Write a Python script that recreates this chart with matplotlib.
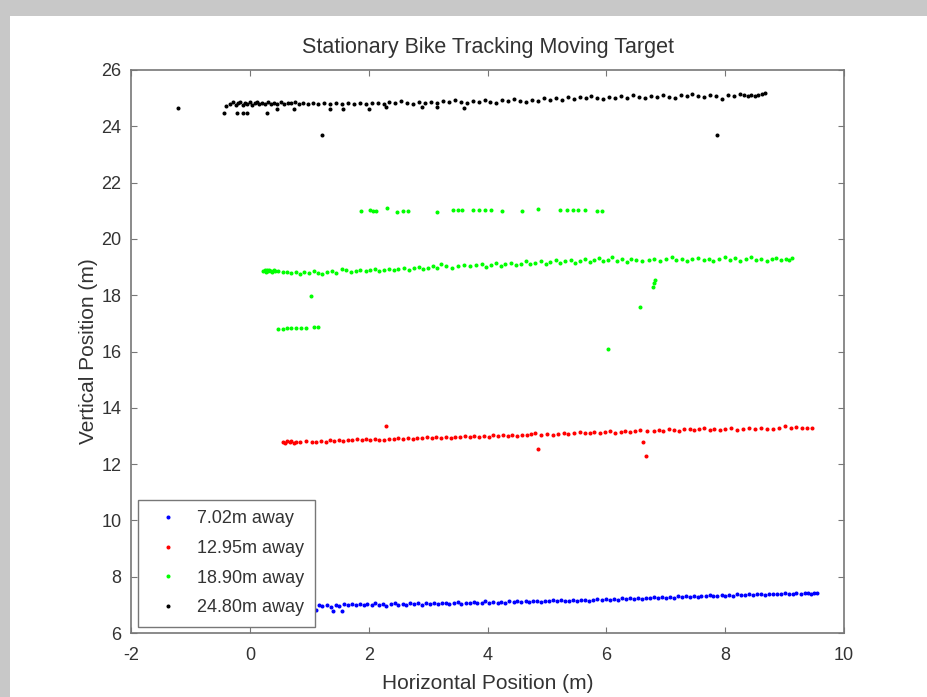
import matplotlib
matplotlib.use("Agg")
from matplotlib import pyplot as plt
from matplotlib.patches import Rectangle

plt.rcParams['font.family'] = ['Liberation Sans', 'DejaVu Sans']
plt.rcParams['axes.unicode_minus'] = False

# 7.02m away (blue)
blue_x = [0.55, 0.60, 0.66, 0.71, 0.77, 0.83, 0.88, 0.95, 1.01, 1.07, 1.12, 1.16, 1.22, 1.30, 1.36,
          1.40, 1.45, 1.50, 1.55, 1.58, 1.65, 1.72, 1.78, 1.85, 1.92, 1.98, 2.05, 2.10, 2.18, 2.24,
          2.30, 2.37, 2.44, 2.50, 2.57, 2.63, 2.70, 2.76, 2.83, 2.90, 2.97, 3.03, 3.10, 3.16, 3.23,
          3.30, 3.36, 3.43, 3.50, 3.56, 3.63, 3.70, 3.77, 3.83, 3.90, 3.96, 4.03, 4.10, 4.17, 4.23,
          4.30, 4.37, 4.44, 4.50, 4.57, 4.64, 4.70, 4.77, 4.84, 4.90, 4.97, 5.04, 5.10, 5.17, 5.24,
          5.30, 5.37, 5.44, 5.50, 5.57, 5.64, 5.70, 5.78, 5.85, 5.92, 6.00, 6.06, 6.13, 6.20, 6.27,
          6.33, 6.40, 6.47, 6.54, 6.60, 6.67, 6.74, 6.80, 6.87, 6.94, 7.00, 7.07, 7.14, 7.20, 7.27,
          7.34, 7.40, 7.47, 7.54, 7.60, 7.67, 7.74, 7.80, 7.87, 7.94, 8.00, 8.07, 8.14, 8.20, 8.27,
          8.34, 8.40, 8.47, 8.54, 8.60, 8.67, 8.74, 8.80, 8.87, 8.94, 9.00, 9.07, 9.14, 9.20, 9.27,
          9.34, 9.40, 9.45, 9.50, 9.55]
blue_y = [6.93, 6.97, 6.90, 6.95, 6.99, 6.94, 6.97, 6.92, 6.98, 6.95, 6.80, 7.00, 6.96, 6.99, 6.94,
          6.78, 7.01, 6.97, 6.79, 7.02, 6.98, 7.03, 6.99, 7.04, 7.00, 7.03, 6.98, 7.05, 7.01, 7.04,
          6.97, 7.03, 7.06, 7.00, 7.04, 7.01, 7.07, 7.02, 7.05, 7.01, 7.06, 7.03, 7.07, 7.02, 7.05,
          7.08, 7.03, 7.06, 7.09, 7.04, 7.07, 7.05, 7.10, 7.06, 7.08, 7.12, 7.07, 7.10, 7.06, 7.11,
          7.08, 7.12, 7.09, 7.13, 7.10, 7.14, 7.09, 7.12, 7.15, 7.11, 7.14, 7.12, 7.16, 7.13, 7.17,
          7.14, 7.12, 7.17, 7.15, 7.19, 7.16, 7.13, 7.18, 7.21, 7.17, 7.20, 7.18, 7.22, 7.19, 7.23,
          7.20, 7.24, 7.21, 7.26, 7.22, 7.25, 7.23, 7.27, 7.24, 7.28, 7.25, 7.29, 7.26, 7.30, 7.27,
          7.31, 7.28, 7.32, 7.29, 7.33, 7.30, 7.34, 7.31, 7.33, 7.35, 7.32, 7.36, 7.33, 7.37, 7.34,
          7.36, 7.38, 7.35, 7.37, 7.39, 7.36, 7.38, 7.40, 7.37, 7.39, 7.41, 7.38, 7.40, 7.42, 7.39,
          7.41, 7.43, 7.40, 7.42, 7.41]

# 12.95m away (red)
red_x = [0.56, 0.60, 0.63, 0.67, 0.70, 0.74, 0.78, 0.85, 0.95, 1.05, 1.12, 1.20, 1.28, 1.35, 1.42,
         1.50, 1.57, 1.65, 1.72, 1.80, 1.88, 1.95, 2.02, 2.10, 2.18, 2.26, 2.30, 2.35, 2.42, 2.50,
         2.58, 2.66, 2.74, 2.82, 2.90, 2.98, 3.06, 3.14, 3.22, 3.30, 3.38, 3.46, 3.54, 3.62, 3.70,
         3.78, 3.86, 3.94, 4.02, 4.10, 4.18, 4.26, 4.34, 4.42, 4.50, 4.58, 4.66, 4.74, 4.80, 4.85,
         4.90, 5.00, 5.10, 5.18, 5.28, 5.36, 5.45, 5.55, 5.64, 5.72, 5.80, 5.90, 5.98, 6.06, 6.15,
         6.24, 6.32, 6.40, 6.48, 6.56, 6.62, 6.66, 6.68, 6.80, 6.88, 6.96, 7.05, 7.14, 7.22, 7.30,
         7.40, 7.48, 7.56, 7.65, 7.74, 7.82, 7.92, 8.00, 8.10, 8.20, 8.30, 8.40, 8.50, 8.60, 8.70,
         8.80, 8.90, 9.00, 9.10, 9.20, 9.30, 9.38, 9.46]
red_y = [12.80, 12.76, 12.83, 12.78, 12.81, 12.76, 12.80, 12.78, 12.82, 12.79, 12.77, 12.83, 12.80,
         12.84, 12.81, 12.86, 12.82, 12.87, 12.84, 12.88, 12.85, 12.89, 12.86, 12.90, 12.87, 12.85,
         13.36, 12.90, 12.88, 12.92, 12.89, 12.93, 12.90, 12.94, 12.91, 12.95, 12.92, 12.96, 12.93,
         12.97, 12.94, 12.98, 12.95, 12.99, 12.96, 13.00, 12.97, 13.01, 12.98, 13.02, 12.99, 13.03,
         13.00, 13.04, 13.01, 13.05, 13.02, 13.06, 13.10, 12.52, 13.03, 13.07, 13.04, 13.08, 13.12,
         13.06, 13.10, 13.13, 13.09, 13.12, 13.14, 13.10, 13.13, 13.16, 13.12, 13.15, 13.18, 13.14,
         13.17, 13.22, 12.78, 12.30, 13.19, 13.16, 13.22, 13.18, 13.24, 13.20, 13.17, 13.23, 13.26,
         13.20, 13.24, 13.28, 13.22, 13.25, 13.21, 13.24, 13.27, 13.22, 13.25, 13.28, 13.24, 13.27,
         13.23, 13.26, 13.30, 13.35, 13.28, 13.31, 13.27, 13.29, 13.28]

# 18.90m away (green)
green_x = [0.22, 0.25, 0.27, 0.29, 0.31, 0.33, 0.35, 0.37, 0.40, 0.43, 0.48, 0.55, 0.62, 0.70, 0.78,
           0.85, 0.92, 1.00, 1.08, 1.15, 1.22, 1.30, 1.38, 1.45, 1.55, 1.62, 1.70, 1.78, 1.86, 1.95,
           2.02, 2.10, 2.18, 2.25, 2.35, 2.42, 2.50, 2.60, 2.68, 2.76, 2.85, 2.92, 3.00, 3.08, 3.15,
           3.22, 3.30, 3.40, 3.50, 3.60, 3.70, 3.80, 3.90, 3.98, 4.06, 4.15, 4.22, 4.30, 4.40, 4.48,
           4.56, 4.64, 4.72, 4.80, 4.90, 4.98, 5.06, 5.15, 5.22, 5.30, 5.40, 5.48, 5.56, 5.64, 5.72,
           5.80, 5.88, 5.95, 6.02, 6.10, 6.18, 6.26, 6.34, 6.42, 6.50, 6.60, 6.72, 6.80, 6.90, 7.00,
           7.10, 7.18, 7.28, 7.36, 7.45, 7.55, 7.64, 7.72, 7.80, 7.90, 8.00, 8.08, 8.16, 8.25, 8.35,
           8.44, 8.52, 8.60, 8.70, 8.78, 8.86, 8.94, 9.02, 9.08, 9.12,
           1.87, 2.02, 2.07, 2.12, 2.31, 2.48, 2.58, 2.66, 3.15, 3.42, 3.50, 3.57, 3.76, 3.86, 3.96,
           4.06, 4.25, 4.58, 4.85, 5.22, 5.34, 5.44, 5.52, 5.64, 5.85, 5.93,
           0.47, 0.55, 0.62, 0.70, 0.78, 0.86, 0.95, 1.08, 1.15,
           1.03, 6.03, 6.57, 6.79, 6.80, 6.82]
green_y = [18.86, 18.90, 18.83, 18.88, 18.85, 18.91, 18.86, 18.82, 18.88, 18.85, 18.87, 18.84, 18.82,
           18.80, 18.84, 18.76, 18.82, 18.78, 18.85, 18.80, 18.74, 18.82, 18.86, 18.80, 18.92, 18.88,
           18.83, 18.87, 18.90, 18.85, 18.88, 18.92, 18.87, 18.90, 18.93, 18.88, 18.92, 18.95, 18.90,
           18.95, 19.00, 18.93, 18.98, 19.03, 18.96, 19.10, 19.02, 18.98, 19.05, 19.08, 19.02, 19.06,
           19.12, 19.00, 19.08, 19.14, 19.05, 19.10, 19.16, 19.08, 19.12, 19.20, 19.10, 19.15, 19.22,
           19.12, 19.18, 19.24, 19.14, 19.20, 19.26, 19.16, 19.22, 19.28, 19.18, 19.25, 19.32, 19.20,
           19.26, 19.34, 19.22, 19.30, 19.18, 19.27, 19.24, 19.20, 19.26, 19.30, 19.22, 19.28, 19.34,
           19.24, 19.30, 19.20, 19.27, 19.33, 19.25, 19.30, 19.22, 19.28, 19.35, 19.26, 19.31, 19.23,
           19.29, 19.34, 19.25, 19.30, 19.22, 19.28, 19.33, 19.26, 19.30, 19.24, 19.32,
           20.98, 21.02, 21.00, 20.99, 21.10, 20.96, 20.99, 21.00, 20.97, 21.01, 21.01, 21.01, 21.04,
           21.01, 21.01, 21.01, 21.00, 21.00, 21.05, 21.04, 21.04, 21.03, 21.03, 21.01, 20.99, 20.99,
           16.80, 16.81, 16.82, 16.83, 16.83, 16.84, 16.84, 16.86, 16.86,
           17.97, 16.09, 17.58, 18.29, 18.42, 18.54]

# 24.80m away (black)
black_x = [-0.40, -0.33, -0.28, -0.24, -0.20, -0.16, -0.12, -0.08, -0.04, 0.00, 0.04, 0.08, 0.12,
           0.16, 0.20, 0.25, 0.30, 0.35, 0.40, 0.46, 0.52, 0.58, 0.64, 0.70, 0.76, 0.82, 0.90, 0.98,
           1.06, 1.15, 1.24, 1.35, 1.45, 1.55, 1.65, 1.75, 1.85, 1.95, 2.05, 2.15, 2.25, 2.35, 2.45,
           2.55, 2.65, 2.75, 2.85, 2.95, 3.05, 3.15, 3.25, 3.35, 3.45, 3.55, 3.65, 3.75, 3.85, 3.95,
           4.05, 4.15, 4.25, 4.35, 4.45, 4.55, 4.65, 4.75, 4.85, 4.95, 5.05, 5.15, 5.25, 5.35, 5.45,
           5.55, 5.65, 5.75, 5.85, 5.95, 6.05, 6.15, 6.25, 6.35, 6.45, 6.55, 6.65, 6.75, 6.85, 6.95,
           7.05, 7.15, 7.25, 7.35, 7.45, 7.55, 7.65, 7.75, 7.85, 7.95, 8.05, 8.15, 8.25, 8.32, 8.38,
           8.44, 8.50, 8.56, 8.62, 8.67,
           -1.21, -0.43, -0.22, -0.11, -0.05, 0.29, 0.45, 0.75, 1.22, 1.35, 1.57, 2.00, 2.30, 2.90,
           3.15, 3.60, 7.87]
black_y = [24.72, 24.78, 24.85, 24.74, 24.82, 24.88, 24.76, 24.83, 24.79, 24.86, 24.75, 24.82, 24.87,
           24.79, 24.84, 24.80, 24.86, 24.78, 24.83, 24.80, 24.85, 24.79, 24.84, 24.81, 24.86, 24.80,
           24.84, 24.79, 24.83, 24.80, 24.82, 24.79, 24.81, 24.78, 24.82, 24.80, 24.83, 24.79, 24.81,
           24.84, 24.80, 24.86, 24.82, 24.90, 24.84, 24.80, 24.88, 24.83, 24.87, 24.82, 24.90, 24.85,
           24.93, 24.87, 24.82, 24.91, 24.86, 24.94, 24.88, 24.84, 24.93, 24.89, 24.97, 24.90, 24.86,
           24.95, 24.91, 24.99, 24.93, 25.01, 24.95, 25.03, 24.97, 25.05, 24.99, 25.07, 25.01, 24.96,
           25.05, 25.00, 25.08, 25.02, 25.10, 25.04, 25.00, 25.08, 25.03, 25.11, 25.05, 25.02, 25.10,
           25.06, 25.13, 25.07, 25.03, 25.11, 25.08, 24.98, 25.12, 25.06, 25.14, 25.10, 25.08, 25.12,
           25.09, 25.11, 25.13, 25.18,
           24.65, 24.47, 24.47, 24.48, 24.47, 24.48, 24.62, 24.62, 23.69, 24.60, 24.62, 24.62, 24.68,
           24.67, 24.67, 24.66, 23.69]

labels = ['7.02m away', '12.95m away', '18.90m away', '24.80m away']
colors = ['#0000ff', '#ff0000', '#00ff00', '#000000']
x_ticks = [-2, 0, 2, 4, 6, 8, 10]
y_ticks = [6, 8, 10, 12, 14, 16, 18, 20, 22, 24, 26]

W, H = 927, 697
fig = plt.figure(figsize=(W / 100, H / 100), dpi=100)
fig.patch.set_facecolor('white')

# grey window frame on top and left
fig.patches.append(Rectangle((0, 1 - 16 / H), 1, 16 / H, transform=fig.transFigure,
                             facecolor='#c8c8c8', edgecolor='none', zorder=0))
fig.patches.append(Rectangle((0, 0), 10 / W, 1, transform=fig.transFigure,
                             facecolor='#c8c8c8', edgecolor='none', zorder=0))

ax = fig.add_axes([131 / W, 1 - 633 / H, 713 / W, 563 / H])

series = [(blue_x, blue_y), (red_x, red_y), (green_x, green_y), (black_x, black_y)]
for (xs, ys), c, lab in zip(series, colors, labels):
    ax.plot(xs, ys, '.', color=c, markersize=3.8, label=lab)

ax.set_xlim(-2, 10)
ax.set_ylim(6, 26)
ax.set_xticks(x_ticks)
ax.set_yticks(y_ticks)
ax.tick_params(direction='in', length=4, width=0.8, color='#777777', top=True, right=True,
               labelsize=13, labelcolor='#333333')
ax.tick_params(axis='x', pad=10)
ax.tick_params(axis='y', pad=7)
for s in ax.spines.values():
    s.set_color('#777777')
    s.set_linewidth(1.2)

ax.set_title('Stationary Bike Tracking Moving Target', fontsize=15.5, color='#333333', pad=12)
ax.set_xlabel('Horizontal Position (m)', fontsize=15, color='#333333', labelpad=7)
ax.set_ylabel('Vertical Position (m)', fontsize=15, color='#333333', labelpad=2)

leg = ax.legend(loc='lower left', bbox_to_anchor=(0.01, 0.011), borderaxespad=0,
                fontsize=13, numpoints=1, markerscale=1.0, handlelength=2.2,
                handletextpad=0.5, labelspacing=0.7, borderpad=0.58, fancybox=False,
                framealpha=1, edgecolor='#777777')
leg.get_frame().set_linewidth(1.0)
for t in leg.get_texts():
    t.set_color('#333333')

fig.savefig('out.png', dpi=100)
